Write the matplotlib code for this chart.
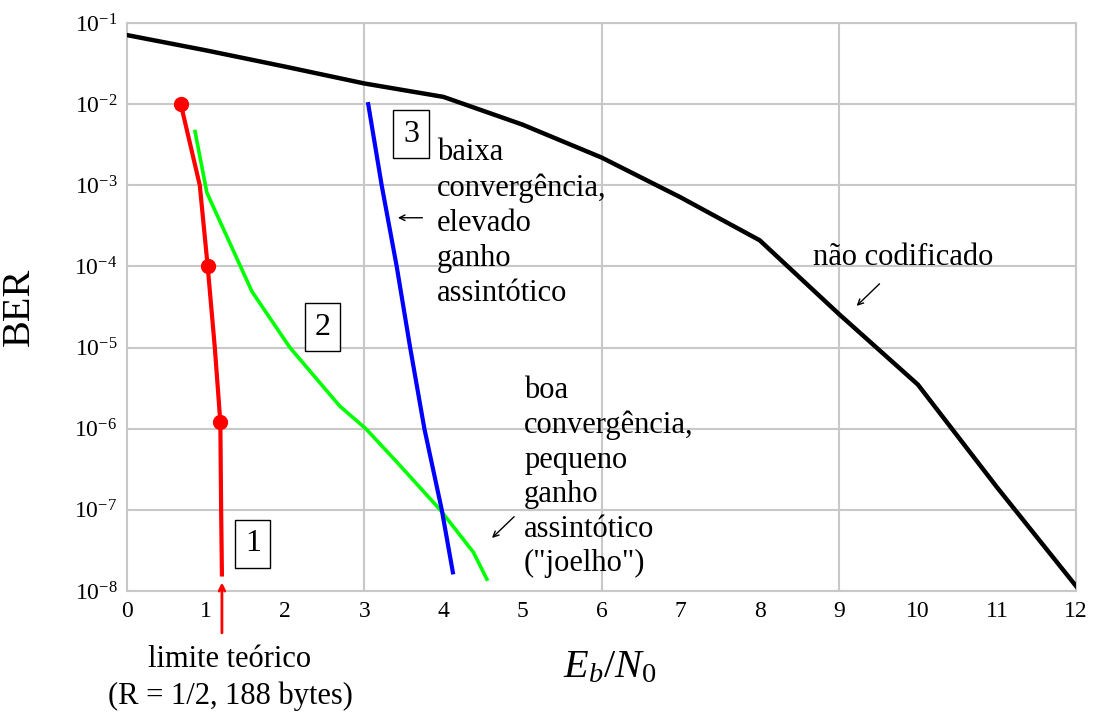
import matplotlib
matplotlib.use('Agg')
import matplotlib.pyplot as plt
from matplotlib.ticker import NullLocator

plt.rcParams['font.family'] = ['Liberation Serif', 'DejaVu Serif']
plt.rcParams['mathtext.fontset'] = 'custom'
plt.rcParams['mathtext.rm'] = 'Liberation Serif'
plt.rcParams['mathtext.it'] = 'Liberation Serif:italic'

# curva não codificada
unc_x = [0, 1, 2, 3, 4, 5, 6, 7, 8, 9, 10, 11, 12]
unc_ber = [7.1e-2, 4.6e-2, 2.9e-2, 1.8e-2, 1.23e-2, 5.6e-3, 2.2e-3,
           7.1e-4, 2.1e-4, 2.6e-5, 3.5e-6, 1.9e-7, 1.15e-8]

# curva 1 (vermelha)
c1_x = [0.68, 0.92, 1.02, 1.11, 1.18, 1.19, 1.20]
c1_ber = [1e-2, 1e-3, 1e-4, 1e-5, 1.2e-6, 1e-7, 1.6e-8]
c1_mark_x = [0.68, 1.02, 1.18]
c1_mark_ber = [1e-2, 1e-4, 1.2e-6]

# curva 2 (verde)
c2_x = [0.86, 1.01, 1.58, 2.06, 2.69, 3.02, 3.41, 3.96, 4.38, 4.55]
c2_ber = [4.6e-3, 8.1e-4, 4.9e-5, 1.0e-5, 1.9e-6, 1.0e-6, 3.9e-7,
          1.0e-7, 3.0e-8, 1.4e-8]

# curva 3 (azul)
c3_x = [3.05, 3.22, 3.41, 3.58, 3.76, 3.98, 4.12]
c3_ber = [1e-2, 1e-3, 1e-4, 1e-5, 1e-6, 1e-7, 1.7e-8]

x_ticks = list(range(13))
y_exps = [-1, -2, -3, -4, -5, -6, -7, -8]

fig = plt.figure(figsize=(10.96, 7.15), dpi=100)
ax = fig.add_axes([0.1159, 0.1734, 0.8659, 0.7944])
ax.set_yscale('log')
ax.set_xlim(0, 12)
ax.set_ylim(1e-8, 1e-1)

grid_c = '#c8c8c8'
for e in y_exps:
    ax.axhline(10.0 ** e, color=grid_c, lw=1.5, zorder=0)
for gx in [3, 6, 9]:
    ax.axvline(gx, color=grid_c, lw=1.5, zorder=0)
for s in ax.spines.values():
    s.set_color(grid_c)
    s.set_linewidth(1.5)

ax.set_xticks(x_ticks)
ax.set_xticklabels([str(t) for t in x_ticks], fontsize=17)
ax.set_yticks([10.0 ** e for e in y_exps])
ax.set_yticklabels(['10$^{%d}$' % e for e in y_exps], fontsize=17)
ax.yaxis.set_minor_locator(NullLocator())
ax.tick_params(length=0, pad=7)

ax.plot(unc_x, unc_ber, color='black', lw=3.2, zorder=3)
ax.plot(c1_x, c1_ber, color='#ff0000', lw=3, zorder=4)
ax.plot(c1_mark_x, c1_mark_ber, 'o', color='#ff0000', ms=10, zorder=5)
ax.plot(c2_x, c2_ber, color='#00ff00', lw=2.6, zorder=3)
ax.plot(c3_x, c3_ber, color='#0000ff', lw=3, zorder=3)

box = dict(boxstyle='square,pad=0.3', fc='white', ec='black', lw=1)
ax.text(1.59, 3.8e-8, '1', fontsize=23, ha='center', va='center', bbox=box)
ax.text(2.47, 10 ** -4.75, '2', fontsize=23, ha='center', va='center', bbox=box)
ax.text(3.59, 10 ** -2.37, '3', fontsize=23, ha='center', va='center', bbox=box)

ax.text(3.92, 10 ** -2.42, 'baixa\nconvergência,\nelevado\nganho\nassintótico',
        fontsize=22, ha='left', va='top', linespacing=1.27)
ax.annotate('', xy=(3.39, 10 ** -3.40), xytext=(3.77, 10 ** -3.40),
            arrowprops=dict(arrowstyle='->', color='black', lw=1))

ax.text(9.82, 10 ** -3.89, 'não codificado', fontsize=22, ha='center', va='center')
ax.annotate('', xy=(9.20, 10 ** -4.51), xytext=(9.54, 10 ** -4.19),
            arrowprops=dict(arrowstyle='->', color='black', lw=1))

ax.text(5.02, 10 ** -5.35, 'boa\nconvergência,\npequeno\nganho\nassintótico\n("joelho")',
        fontsize=22, ha='left', va='top', linespacing=1.25)
ax.annotate('', xy=(4.59, 10 ** -7.37), xytext=(4.92, 10 ** -7.06),
            arrowprops=dict(arrowstyle='->', color='black', lw=1))

ax.annotate('', xy=(1.2, 10 ** -7.86), xytext=(1.2, 10 ** -8.55),
            arrowprops=dict(arrowstyle='->', color='#ff0000', lw=2),
            annotation_clip=False)

fig.text(230 / 1096, 1 - 645 / 715, 'limite teórico\n(R = 1/2, 188 bytes)',
         fontsize=22, ha='center', va='top', multialignment='center',
         linespacing=1.35)

ax.set_ylabel('BER', fontsize=29)
ax.yaxis.set_label_coords(-0.094, 0.5)
fig.text(610 / 1096, 1 - 668 / 715, r'$E_b/N_0$', fontsize=29,
         ha='center', va='center')

fig.savefig('out.png', dpi=100)
